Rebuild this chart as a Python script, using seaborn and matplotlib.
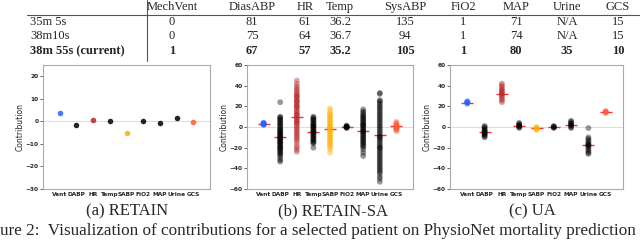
import pandas as pd
import seaborn as sns
import matplotlib.pyplot as plt
from matplotlib.lines import Line2D

sns.set_style("white")
plt.rcParams['font.family'] = ['DejaVu Sans']

W, H = 640, 240

# table at the top
table_cols = ["MechVent", "DiasABP", "HR", "Temp", "SysABP", "FiO2", "MAP", "Urine", "GCS"]
table_rows = ["35m 5s", "38m10s", "38m 55s (current)"]
table_vals = [
    ["0", "81", "61", "36.2", "135", "1", "71", "N/A", "15"],
    ["0", "75", "64", "36.7", "94", "1", "74", "N/A", "15"],
    ["1", "67", "57", "35.2", "105", "1", "80", "35", "10"],
]

features = ["Vent", "DABP", "HR", "Temp", "SABP", "FiO2", "MAP", "Urine", "GCS"]
palette = {"Vent": "#2563ff", "DABP": "black", "HR": "#b52525", "Temp": "black",
           "SABP": "#ffb000", "FiO2": "black", "MAP": "black", "Urine": "black",
           "GCS": "#ff5a36"}

# (a) RETAIN: one contribution per feature
retain = [3.5, -1.5, 0.5, 0.0, -5.0, 0.2, -0.7, 1.5, -0.2]

# (b) RETAIN-SA: contributions per feature
sa_vals = {
    "Vent": [2.0, 2.4, 2.8, 3.0, 3.2, 3.5, 3.8, 4.2, 2.6, 3.4],
    "DABP": [24, 10, 9.2, 8.4, 7.1, 6.3, 5, 3.8, 2.9, 1.7, 0.8, -0.6, -1.9, -3.2, -4.1,
             -5.5, -6.4, -7.8, -8.6, -9.9, -10.7, -11.8, -13.1, -14.2, -15.0, -16.4,
             -17.3, -18.7, -19.6, -20.8, -21.9, -23.1, -24.2, -25.4, -26.5, -27.6,
             -30, -32, -33.5, -12, -15.5, -6, -3, -20, -9],
    "HR": [45, 42, 39.5, 37.5, 36, 34.2, 32.8, 31, 29.5, 28.1, 26.6, 25, 23.4, 22,
           20.5, 19.1, 17.6, 16, 14.8, 13.1, 11.7, 10.2, 8.6, 7.3, 5.9, 4.2, 2.8, 1.3,
           -0.2, -1.8, -3.3, -4.9, -6.4, -8, -9.6, -11.2, -13, -15, -18, -20, -22,
           -24, 30, 20, 12, 5, 25],
    "Temp": [10, 9, 8, 7.1, 6.2, 5.1, 4, 3, 2.1, 1.2, 0.1, -1, -2, -3.1, -4, -5.2,
             -6.1, -7, -8.1, -9, -10, -11.1, -12, -13, -14.1, -15, -16, -20, -4.5, 0.5],
    "SABP": [18, 16.2, 13.5, 12.4, 11, 9.8, 8.5, 7.2, 6, 4.8, 3.5, 2.2, 1, -0.3, -1.6,
             -2.8, -4.1, -5.3, -6.6, -7.9, -9.1, -10.4, -11.6, -12.9, -14.2, -15.5,
             -16.8, -18, -20, -22, -25, 0.5, -3],
    "FiO2": [-1.0, -0.5, 0.0, 0.4, 0.8, 1.3, 0.2, -0.2],
    "MAP": [17, 15, 13.8, 12, 10.9, 9.7, 8.6, 7.4, 6.2, 5.1, 3.9, 2.8, 1.6, 0.4, -0.8,
            -2, -3.1, -4.3, -5.5, -6.6, -7.8, -9, -10.1, -11.3, -12.5, -13.6, -14.8,
            -16, -17.2, -18.4, -19.6, -22, -25, -28, -4, 2],
    "Urine": [33, 32, 26, 25, 23.4, 21.7, 20, 18.5, 16.8, 15.1, 13.4, 11.8, 10.1, 8.5,
              6.8, 5.1, 3.4, 1.8, 0.1, -1.6, -3.3, -5, -6.6, -8.3, -10, -11.7, -13.3,
              -15, -16.7, -18.4, -20, -21.7, -23.4, -25.1, -26.7, -28.4, -30.1,
              -31.8, -33.4, -35.1, -36.8, -38.5, -40.1, -41.8, -43.5, -45, -48, -50,
              -53, -10, -20],
    "GCS": [-4, -3, -2, -1, 0, 1, 2, 3, 4, 5, 0.5, -0.5, 1.5, -1.5],
}
sa_means = [3.0, -9.5, 10.0, -4.5, -2.0, 0.0, -3.5, -7.5, 0.5]

# (c) UA: contributions per feature
ua_vals = {
    "Vent": [22.5, 23.0, 23.5, 24.0, 24.5, 25.0, 23.8],
    "DABP": [1, 0, -1, -2, -3, -4, -5, -6, -7, -8, -9, -10, -4.5, -6.5],
    "HR": [24, 25.5, 27, 28.5, 30, 31.5, 33, 34.5, 36, 37.5, 39, 40.5, 42, 32, 35],
    "Temp": [-1, 0, 1, 2, 3, 4, 1.5, 0.5],
    "SABP": [-3, -2.2, -1.5, -0.8, 0, -1.2],
    "FiO2": [-1, -0.3, 0.3, 1, 0],
    "MAP": [-1, 0, 1, 2, 3, 4, 5, 6, 2.5],
    "Urine": [-1, -10, -11.5, -13, -14.5, -16, -17.5, -19, -20.5, -22, -23.5, -25,
              -26, -17, -18],
    "GCS": [13.5, 14.0, 14.5, 15.0, 15.5, 14.7],
}
ua_means = [23.5, -5.0, 32.0, 1.0, -1.0, 0.0, 2.0, -17.0, 14.5]


def long_frame(vals):
    rows = [(f, v) for f in features for v in vals[f]]
    return pd.DataFrame(rows, columns=["feature", "value"])


def fx(x):
    return x / W


def fy(y):
    return 1 - y / H


fig = plt.figure(figsize=(6.4, 2.4), dpi=100)

# ---- table ----
serif = ['Liberation Serif', 'DejaVu Serif']
fig.add_artist(Line2D([fx(147), fx(147)], [fy(0), fy(61)], color='#555', lw=0.8,
                      transform=fig.transFigure))
fig.add_artist(Line2D([fx(27), fx(640)], [fy(14.5), fy(14.5)], color='#555', lw=0.8,
                      transform=fig.transFigure))
col_x = [172, 252, 305, 340, 405, 463, 516, 567, 618]
row_y = [22, 36, 51]
for c, x in zip(table_cols, col_x):
    fig.text(fx(x), fy(7), c, ha='center', va='center', family=serif, fontsize=9)
for i, (r, y) in enumerate(zip(table_rows, row_y)):
    wt = 'bold' if i == 2 else 'normal'
    fig.text(fx(30), fy(y), r, ha='left', va='center', family=serif, fontsize=9,
             fontweight=wt)
    for v, x in zip(table_vals[i], col_x):
        fig.text(fx(x), fy(y), v, ha='center', va='center', family=serif,
                 fontsize=9, fontweight=wt)


def style_axes(ax, ylim, yticks):
    ax.set_xlim(-1, 9)
    ax.set_ylim(*ylim)
    ax.set_yticks(yticks)
    ax.set_xlabel("")
    ax.set_ylabel("Contribution", fontsize=5.5, labelpad=1)
    for s in ax.spines.values():
        s.set_color('#aaaaaa')
        s.set_linewidth(0.8)
    ax.tick_params(axis='y', length=2, width=0.5, labelsize=4.2, pad=1, left=True)
    ax.tick_params(axis='x', length=0, labelsize=4.2, pad=2)
    for lab in ax.get_xticklabels() + ax.get_yticklabels():
        lab.set_fontweight('bold')


def strip_panel(ax, df, means, alpha, size, ylim, yticks):
    ax.axhline(0, color='#dddddd', lw=0.8, zorder=0)
    sns.stripplot(data=df, x="feature", y="value", hue="feature", order=features,
                  palette=palette, jitter=False, alpha=alpha, size=size, linewidth=0,
                  legend=False, ax=ax)
    sns.pointplot(x=features, y=means, order=features, color='#f03535',
                  markers='_', linestyles='none', errorbar=None, markersize=8,
                  markeredgewidth=1.0, ax=ax)
    style_axes(ax, ylim, yticks)


ax_a = fig.add_axes([fx(43), fy(189), fx(167), 124 / H])
ax_b = fig.add_axes([fx(247), fy(189), fx(166), 124 / H])
ax_c = fig.add_axes([fx(450), fy(189), fx(173), 124 / H])

df_a = pd.DataFrame({"feature": features, "value": retain})
ax_a.axhline(0, color='#dddddd', lw=0.8, zorder=0)
sns.stripplot(data=df_a, x="feature", y="value", hue="feature", order=features,
              palette=palette, jitter=False, alpha=0.85, size=4, linewidth=0,
              legend=False, ax=ax_a)
style_axes(ax_a, (-30, 25), [-30, -20, -10, 0, 10, 20])

strip_panel(ax_b, long_frame(sa_vals), sa_means, 0.4, 4.2, (-60, 60),
            [-60, -40, -20, 0, 20, 40, 60])
strip_panel(ax_c, long_frame(ua_vals), ua_means, 0.4, 4.2, (-60, 60),
            [-60, -40, -20, 0, 20, 40, 60])

# ---- captions ----
for x, t in [(127, "(a) RETAIN"), (333, "(b) RETAIN-SA"), (532, "(c) UA")]:
    fig.text(fx(x), fy(211), t, ha='center', va='center', family=serif, fontsize=12)
fig.text(fx(0), fy(231),
         "ure 2:  Visualization of contributions for a selected patient on "
         "PhysioNet mortality prediction",
         ha='left', va='center', family=serif, fontsize=12.3)

fig.savefig("out.png", dpi=100)
